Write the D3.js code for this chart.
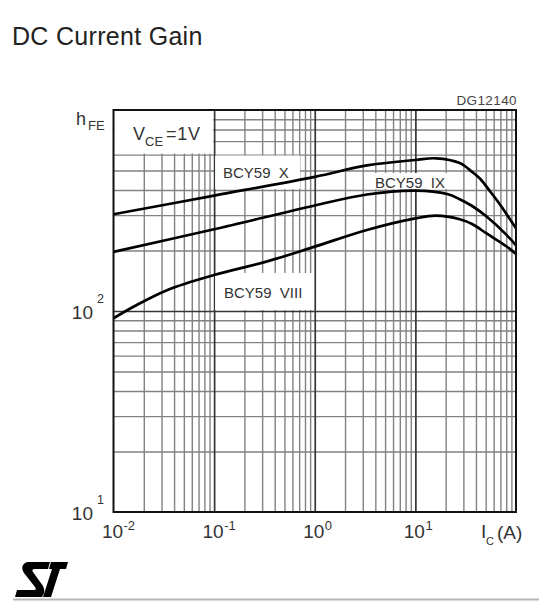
<!DOCTYPE html>
<html><head><meta charset="utf-8">
<script src="https://cdn.jsdelivr.net/npm/d3@7"></script>
<style>
body{margin:0;background:#fff;}
svg{display:block;font-family:"Liberation Sans",Arial,sans-serif;}
</style></head><body>
<svg id="c" width="539" height="602"></svg>
<script>
// ---- data ----
const titleText = "DC Current Gain";
const figureCode = "DG12140";
const seriesNames = ["BCY59  X", "BCY59  IX", "BCY59  VIII"];
const icX = [0.01, 0.1, 1, 3.3, 10, 16, 27.6, 37, 44, 55, 69, 80, 100];
const hfeX = [303, 375, 465, 530, 564, 575, 545, 490, 455, 395, 340, 305, 258];
const icIX = [0.01, 0.1, 1, 3.3, 10, 20.7, 27.6, 37, 51, 80, 100];
const hfeIX = [197, 255, 335, 380, 397, 382, 360, 332, 295, 240, 212];
const icVIII = [0.01, 0.0158, 0.034, 0.1, 0.33, 1, 3.3, 10, 16, 27.6, 37, 51, 80, 100];
const hfeVIII = [92, 105, 127, 151, 176, 209, 253, 289, 298, 286, 270, 243, 210, 192];
const xTickValues = [0.01, 0.1, 1, 10];
const xTickExponents = ["-2", "-1", "0", "1"];
const yTickValues = [10, 100];
const yTickExponents = ["1", "2"];

// ---- layout ----
const L = 113.5, R = 516, T = 110, B = 512;
const svg = d3.select("#c");
const x = d3.scaleLog().domain([0.01, 100]).range([L, R]);
const y = d3.scaleLog().domain([10, 1000]).range([B, T]);

function minors(lo, hi) {
  const out = [];
  for (let d = lo; d < hi; d++) for (let k = 2; k <= 9; k++) out.push(k * Math.pow(10, d));
  return out;
}
const xMinor = minors(-2, 2), xMajor = [0.1, 1, 10];
const yMinor = minors(1, 3), yMajor = [100];

function grid(axisFn, scale, vals, size, tr, color, w) {
  const g = svg.append("g").attr("transform", tr)
    .call(axisFn(scale).tickValues(vals).tickSize(size).tickFormat(""));
  g.select(".domain").remove();
  g.selectAll("line").attr("stroke", color).attr("stroke-width", w);
}
grid(d3.axisBottom, x, xMinor, -(B - T), `translate(0,${B})`, "#828282", 1.4);
grid(d3.axisLeft, y, yMinor, -(R - L), `translate(${L},0)`, "#828282", 1.4);
grid(d3.axisBottom, x, xMajor, -(B - T), `translate(0,${B})`, "#363636", 1.7);
grid(d3.axisLeft, y, yMajor, -(R - L), `translate(${L},0)`, "#363636", 1.7);

// white label boxes
const boxes = [
  [L + 1, y(1000) + 1, x(0.1) - 1, y(600) - 1],
  [x(0.1) + 1, y(600) + 1, 300, y(400) - 1],
  [372, 173, 447, 189],
  [x(0.1) + 1, 273, x(1) - 1, y(100) - 1]
];
svg.selectAll("rect.box").data(boxes).enter().append("rect")
  .attr("x", d => d[0]).attr("y", d => d[1])
  .attr("width", d => d[2] - d[0]).attr("height", d => d[3] - d[1])
  .attr("fill", "#fff");

// curves
const line = d3.line().x(d => x(d[0])).y(d => y(d[1])).curve(d3.curveCatmullRom.alpha(0.5));
const series = [
  d3.zip(icX, hfeX), d3.zip(icIX, hfeIX), d3.zip(icVIII, hfeVIII)
];
svg.selectAll("path.curve").data(series).enter().append("path")
  .attr("d", line).attr("fill", "none").attr("stroke", "#000")
  .attr("stroke-width", 2.7).attr("stroke-linejoin", "round");

// frame
svg.append("rect").attr("x", L).attr("y", T).attr("width", R - L).attr("height", B - T)
  .attr("fill", "none").attr("stroke", "#111").attr("stroke-width", 2);

// series labels
const labelPos = [[223, 177.5], [375, 188], [224, 298]];
svg.selectAll("text.lab").data(seriesNames).enter().append("text")
  .attr("x", (d, i) => labelPos[i][0]).attr("y", (d, i) => labelPos[i][1])
  .style("white-space", "pre").attr("font-size", 15).attr("fill", "#333")
  .text(d => d);

// title
svg.append("text").attr("x", 12).attr("y", 45).attr("font-size", 25)
  .attr("letter-spacing", 0.3).attr("fill", "#222").text(titleText);
svg.append("text").attr("x", 517).attr("y", 105).attr("text-anchor", "end")
  .attr("font-size", 13.5).attr("letter-spacing", 0.4).attr("fill", "#444").text(figureCode);

// hFE label
svg.append("text").attr("x", 76).attr("y", 125).attr("font-size", 18).attr("fill", "#333").text("h");
svg.append("text").attr("x", 88).attr("y", 130).attr("font-size", 13).attr("fill", "#333").text("FE");
// VCE
svg.append("text").attr("x", 133).attr("y", 140).attr("font-size", 18).attr("fill", "#333").text("V");
svg.append("text").attr("x", 145).attr("y", 146).attr("font-size", 13).attr("fill", "#333").text("CE");
svg.append("text").attr("x", 166).attr("y", 140).attr("font-size", 18).attr("fill", "#333")
  .attr("letter-spacing", 0.8).text("=1V");

// y tick labels
yTickValues.forEach((v, i) => {
  svg.append("text").attr("x", 93).attr("y", y(v) + 7.5).attr("text-anchor", "end")
    .attr("font-size", 19).attr("fill", "#333").text("10");
  svg.append("text").attr("x", 97).attr("y", y(v) - 8).attr("font-size", 12.5)
    .attr("fill", "#333").text(yTickExponents[i]);
});
// x tick labels
xTickValues.forEach((v, i) => {
  svg.append("text").attr("x", x(v) - 1).attr("y", 538).attr("text-anchor", "middle")
    .attr("font-size", 19).attr("fill", "#333").text("10");
  svg.append("text").attr("x", x(v) + 10).attr("y", 530).attr("font-size", 13)
    .attr("fill", "#333").text(xTickExponents[i]);
});
// Ic(A)
svg.append("text").attr("x", 481).attr("y", 538).attr("font-size", 19).attr("fill", "#333").text("I");
svg.append("text").attr("x", 486).attr("y", 545).attr("font-size", 11).attr("fill", "#333").text("C");
svg.append("text").attr("x", 497).attr("y", 539).attr("font-size", 19).attr("fill", "#333").text("(A)");

// ST logo
const logo = svg.append("g").attr("transform", "translate(15,562)");
logo.append("path").attr("fill", "#000")
  .attr("d", "M13,0 L35,0 L33,7 L20,7 Q16,7 18,10 L28,24 Q31,30 27,35 L0,35 L2,28 L19,28 Q22,28 20,25 L9,11 Q6,6 8,3 Q10,0 13,0 Z");
logo.append("path").attr("fill", "#000")
  .attr("d", "M36,0 L53,0 L51,7 L45,7 L36,35 L28,35 L37,7 L34,7 Z");
svg.append("line").attr("x1", 13).attr("x2", 539).attr("y1", 599.5).attr("y2", 599.5)
  .attr("stroke", "#b5b5b5").attr("stroke-width", 2);
</script>
</body></html>
